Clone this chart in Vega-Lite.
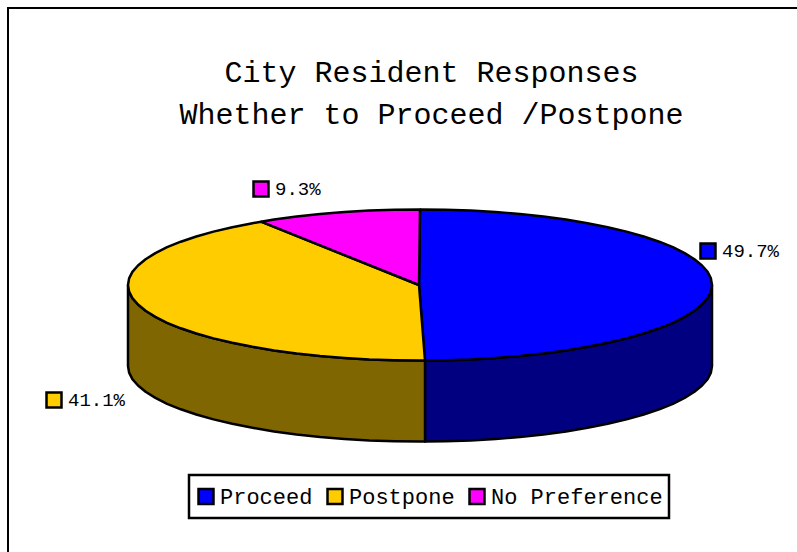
{"$schema":"https://vega.github.io/schema/vega-lite/v6.json","width":797,"height":552,"padding":0,"autosize":{"type":"none"},"background":"white","config":{"view":{"stroke":null},"font":"Liberation Mono"},
"title":{"text":["City Resident Responses","Whether to Proceed /Postpone"],"font":"Liberation Mono","fontSize":30,"fontWeight":"normal","color":"#000","lineHeight":42,"anchor":"middle","orient":"top","offset":-154,"dx":33,"baseline":"alphabetic"},
"encoding":{"x":{"field":"x","type":"quantitative","scale":{"domain":[-420,377],"nice":false,"zero":false},"axis":null},"y":{"field":"y","type":"quantitative","scale":{"domain":[-267,285],"nice":false,"zero":false},"axis":null}},
"layer":[
{"data":{"values":[{"x":-412,"x2":500,"y":277,"y2":-400}]},"mark":{"type":"rect","fill":"white","stroke":"#000","strokeWidth":2},"encoding":{"x2":{"field":"x2"},"y2":{"field":"y2"}}},
{"data":{"values":[
{"p":"Proceed side","i":1,"x":292,"y":0},{"p":"Proceed side","i":2,"x":290.9,"y":-6.6},{"p":"Proceed side","i":3,"x":287.6,"y":-13.1},{"p":"Proceed side","i":4,"x":282,"y":-19.5},{"p":"Proceed side","i":5,"x":274.4,"y":-25.8},{"p":"Proceed side","i":6,"x":264.6,"y":-31.9},{"p":"Proceed side","i":7,"x":252.9,"y":-37.8},{"p":"Proceed side","i":8,"x":239.2,"y":-43.3},{"p":"Proceed side","i":9,"x":223.7,"y":-48.5},{"p":"Proceed side","i":10,"x":206.5,"y":-53.4},{"p":"Proceed side","i":11,"x":187.7,"y":-57.8},{"p":"Proceed side","i":12,"x":167.5,"y":-61.8},{"p":"Proceed side","i":13,"x":146,"y":-65.4},{"p":"Proceed side","i":14,"x":123.4,"y":-68.4},{"p":"Proceed side","i":15,"x":99.9,"y":-70.9},{"p":"Proceed side","i":16,"x":75.6,"y":-72.9},{"p":"Proceed side","i":17,"x":50.7,"y":-74.4},{"p":"Proceed side","i":18,"x":25.5,"y":-75.2},{"p":"Proceed side","i":19,"x":5,"y":-75.5},
{"p":"Proceed side","i":20,"x":5,"y":-156.5},{"p":"Proceed side","i":21,"x":25.5,"y":-156.2},{"p":"Proceed side","i":22,"x":50.7,"y":-155.4},{"p":"Proceed side","i":23,"x":75.6,"y":-153.9},{"p":"Proceed side","i":24,"x":99.9,"y":-151.9},{"p":"Proceed side","i":25,"x":123.4,"y":-149.4},{"p":"Proceed side","i":26,"x":146,"y":-146.4},{"p":"Proceed side","i":27,"x":167.5,"y":-142.8},{"p":"Proceed side","i":28,"x":187.7,"y":-138.8},{"p":"Proceed side","i":29,"x":206.5,"y":-134.4},{"p":"Proceed side","i":30,"x":223.7,"y":-129.5},{"p":"Proceed side","i":31,"x":239.2,"y":-124.3},{"p":"Proceed side","i":32,"x":252.9,"y":-118.8},{"p":"Proceed side","i":33,"x":264.6,"y":-112.9},{"p":"Proceed side","i":34,"x":274.4,"y":-106.8},{"p":"Proceed side","i":35,"x":282,"y":-100.5},{"p":"Proceed side","i":36,"x":287.6,"y":-94.1},{"p":"Proceed side","i":37,"x":290.9,"y":-87.6},{"p":"Proceed side","i":38,"x":292,"y":-81},{"p":"Proceed side","i":39,"x":292,"y":0},

{"p":"Postpone side","i":1,"x":-292,"y":0},{"p":"Postpone side","i":2,"x":-290.9,"y":-6.6},{"p":"Postpone side","i":3,"x":-287.6,"y":-13.1},{"p":"Postpone side","i":4,"x":-282,"y":-19.5},{"p":"Postpone side","i":5,"x":-274.4,"y":-25.8},{"p":"Postpone side","i":6,"x":-264.6,"y":-31.9},{"p":"Postpone side","i":7,"x":-252.9,"y":-37.8},{"p":"Postpone side","i":8,"x":-239.2,"y":-43.3},{"p":"Postpone side","i":9,"x":-223.7,"y":-48.5},{"p":"Postpone side","i":10,"x":-206.5,"y":-53.4},{"p":"Postpone side","i":11,"x":-187.7,"y":-57.8},{"p":"Postpone side","i":12,"x":-167.5,"y":-61.8},{"p":"Postpone side","i":13,"x":-146,"y":-65.4},{"p":"Postpone side","i":14,"x":-123.4,"y":-68.4},{"p":"Postpone side","i":15,"x":-99.9,"y":-70.9},{"p":"Postpone side","i":16,"x":-75.6,"y":-72.9},{"p":"Postpone side","i":17,"x":-50.7,"y":-74.4},{"p":"Postpone side","i":18,"x":-25.5,"y":-75.2},{"p":"Postpone side","i":19,"x":0,"y":-75.5},{"p":"Postpone side","i":20,"x":5,"y":-75.5},
{"p":"Postpone side","i":21,"x":5,"y":-156.5},{"p":"Postpone side","i":22,"x":0,"y":-156.5},{"p":"Postpone side","i":23,"x":-25.5,"y":-156.2},{"p":"Postpone side","i":24,"x":-50.7,"y":-155.4},{"p":"Postpone side","i":25,"x":-75.6,"y":-153.9},{"p":"Postpone side","i":26,"x":-99.9,"y":-151.9},{"p":"Postpone side","i":27,"x":-123.4,"y":-149.4},{"p":"Postpone side","i":28,"x":-146,"y":-146.4},{"p":"Postpone side","i":29,"x":-167.5,"y":-142.8},{"p":"Postpone side","i":30,"x":-187.7,"y":-138.8},{"p":"Postpone side","i":31,"x":-206.5,"y":-134.4},{"p":"Postpone side","i":32,"x":-223.7,"y":-129.5},{"p":"Postpone side","i":33,"x":-239.2,"y":-124.3},{"p":"Postpone side","i":34,"x":-252.9,"y":-118.8},{"p":"Postpone side","i":35,"x":-264.6,"y":-112.9},{"p":"Postpone side","i":36,"x":-274.4,"y":-106.8},{"p":"Postpone side","i":37,"x":-282,"y":-100.5},{"p":"Postpone side","i":38,"x":-287.6,"y":-94.1},{"p":"Postpone side","i":39,"x":-290.9,"y":-87.6},{"p":"Postpone side","i":40,"x":-292,"y":-81},{"p":"Postpone side","i":41,"x":-292,"y":0},

{"p":"Proceed","i":1,"x":0,"y":75.5},{"p":"Proceed","i":2,"x":25.5,"y":75.2},{"p":"Proceed","i":3,"x":50.7,"y":74.4},{"p":"Proceed","i":4,"x":75.6,"y":72.9},{"p":"Proceed","i":5,"x":99.9,"y":70.9},{"p":"Proceed","i":6,"x":123.4,"y":68.4},{"p":"Proceed","i":7,"x":146,"y":65.4},{"p":"Proceed","i":8,"x":167.5,"y":61.8},{"p":"Proceed","i":9,"x":187.7,"y":57.8},{"p":"Proceed","i":10,"x":206.5,"y":53.4},{"p":"Proceed","i":11,"x":223.7,"y":48.5},{"p":"Proceed","i":12,"x":239.2,"y":43.3},{"p":"Proceed","i":13,"x":252.9,"y":37.8},{"p":"Proceed","i":14,"x":264.6,"y":31.9},{"p":"Proceed","i":15,"x":274.4,"y":25.8},{"p":"Proceed","i":16,"x":282,"y":19.5},{"p":"Proceed","i":17,"x":287.6,"y":13.1},{"p":"Proceed","i":18,"x":290.9,"y":6.6},{"p":"Proceed","i":19,"x":292,"y":0},
{"p":"Proceed","i":20,"x":290.9,"y":-6.6},{"p":"Proceed","i":21,"x":287.6,"y":-13.1},{"p":"Proceed","i":22,"x":282,"y":-19.5},{"p":"Proceed","i":23,"x":274.4,"y":-25.8},{"p":"Proceed","i":24,"x":264.6,"y":-31.9},{"p":"Proceed","i":25,"x":252.9,"y":-37.8},{"p":"Proceed","i":26,"x":239.2,"y":-43.3},{"p":"Proceed","i":27,"x":223.7,"y":-48.5},{"p":"Proceed","i":28,"x":206.5,"y":-53.4},{"p":"Proceed","i":29,"x":187.7,"y":-57.8},{"p":"Proceed","i":30,"x":167.5,"y":-61.8},{"p":"Proceed","i":31,"x":146,"y":-65.4},{"p":"Proceed","i":32,"x":123.4,"y":-68.4},{"p":"Proceed","i":33,"x":99.9,"y":-70.9},{"p":"Proceed","i":34,"x":75.6,"y":-72.9},{"p":"Proceed","i":35,"x":50.7,"y":-74.4},{"p":"Proceed","i":36,"x":25.5,"y":-75.2},{"p":"Proceed","i":37,"x":5,"y":-75.5},{"p":"Proceed","i":38,"x":-1,"y":0},{"p":"Proceed","i":39,"x":0,"y":75.5},

{"p":"Postpone","i":1,"x":5,"y":-75.5},{"p":"Postpone","i":2,"x":0,"y":-75.5},{"p":"Postpone","i":3,"x":-25.5,"y":-75.2},{"p":"Postpone","i":4,"x":-50.7,"y":-74.4},{"p":"Postpone","i":5,"x":-75.6,"y":-72.9},{"p":"Postpone","i":6,"x":-99.9,"y":-70.9},{"p":"Postpone","i":7,"x":-123.4,"y":-68.4},{"p":"Postpone","i":8,"x":-146,"y":-65.4},{"p":"Postpone","i":9,"x":-167.5,"y":-61.8},{"p":"Postpone","i":10,"x":-187.7,"y":-57.8},{"p":"Postpone","i":11,"x":-206.5,"y":-53.4},{"p":"Postpone","i":12,"x":-223.7,"y":-48.5},{"p":"Postpone","i":13,"x":-239.2,"y":-43.3},{"p":"Postpone","i":14,"x":-252.9,"y":-37.8},{"p":"Postpone","i":15,"x":-264.6,"y":-31.9},{"p":"Postpone","i":16,"x":-274.4,"y":-25.8},{"p":"Postpone","i":17,"x":-282,"y":-19.5},{"p":"Postpone","i":18,"x":-287.6,"y":-13.1},{"p":"Postpone","i":19,"x":-290.9,"y":-6.6},{"p":"Postpone","i":20,"x":-292,"y":0},
{"p":"Postpone","i":21,"x":-290.9,"y":6.6},{"p":"Postpone","i":22,"x":-287.6,"y":13.1},{"p":"Postpone","i":23,"x":-282,"y":19.5},{"p":"Postpone","i":24,"x":-274.4,"y":25.8},{"p":"Postpone","i":25,"x":-264.6,"y":31.9},{"p":"Postpone","i":26,"x":-252.9,"y":37.8},{"p":"Postpone","i":27,"x":-239.2,"y":43.3},{"p":"Postpone","i":28,"x":-223.7,"y":48.5},{"p":"Postpone","i":29,"x":-206.5,"y":53.4},{"p":"Postpone","i":30,"x":-187.7,"y":57.8},{"p":"Postpone","i":31,"x":-167.5,"y":61.8},{"p":"Postpone","i":32,"x":-159,"y":63.3},{"p":"Postpone","i":33,"x":-1,"y":0},{"p":"Postpone","i":34,"x":5,"y":-75.5},

{"p":"No Preference","i":1,"x":-159,"y":63.3},{"p":"No Preference","i":2,"x":-146,"y":65.4},{"p":"No Preference","i":3,"x":-123.4,"y":68.4},{"p":"No Preference","i":4,"x":-99.9,"y":70.9},{"p":"No Preference","i":5,"x":-75.6,"y":72.9},{"p":"No Preference","i":6,"x":-50.7,"y":74.4},{"p":"No Preference","i":7,"x":-25.5,"y":75.2},{"p":"No Preference","i":8,"x":0,"y":75.5},{"p":"No Preference","i":9,"x":-1,"y":0},{"p":"No Preference","i":10,"x":-159,"y":63.3}
]},"mark":{"type":"line","stroke":"#000","strokeWidth":2.5,"strokeJoin":"round"},"encoding":{"order":{"field":"i","type":"quantitative"},"fill":{"field":"p","type":"nominal"},"detail":{"field":"p"}}},
{"data":{"values":[{"p":"Proceed","value":"49.7%","x":288,"y":34},{"p":"Postpone","value":"41.1%","x":-366,"y":-115},{"p":"No Preference","value":"9.3%","x":-159,"y":96}]},"mark":{"type":"point","shape":"square","filled":true,"size":225,"stroke":"#000","strokeWidth":2.5,"opacity":1},"encoding":{"fill":{"field":"p","type":"nominal","scale":{"domain":["Proceed","Postpone","No Preference","Proceed side","Postpone side"],"range":["#0000ff","#ffcc00","#ff00ff","#000080","#806600"]},
"legend":{"values":["Proceed","Postpone","No Preference"],"title":null,"orient":"none","legendX":189,"legendY":475,"direction":"horizontal","columns":3,"symbolType":"square","symbolSize":225,"symbolStrokeColor":"#000","symbolStrokeWidth":2.5,"symbolOpacity":1,"labelFont":"Liberation Mono","labelFontSize":22,"labelColor":"#000","labelOffset":3,"columnPadding":11,"padding":6,"clipHeight":31,"strokeColor":"#000","fillColor":"white","labelLimit":300,"encode":{"legend":{"update":{"strokeWidth":{"value":2.5}}}}}}}},
{"data":{"values":[{"value":"49.7%","x":288,"y":34},{"value":"41.1%","x":-366,"y":-115},{"value":"9.3%","x":-159,"y":96}]},"mark":{"type":"text","align":"left","baseline":"middle","dx":14,"font":"Liberation Mono","fontSize":19,"color":"#000"},"encoding":{"text":{"field":"value"}}}
]}
